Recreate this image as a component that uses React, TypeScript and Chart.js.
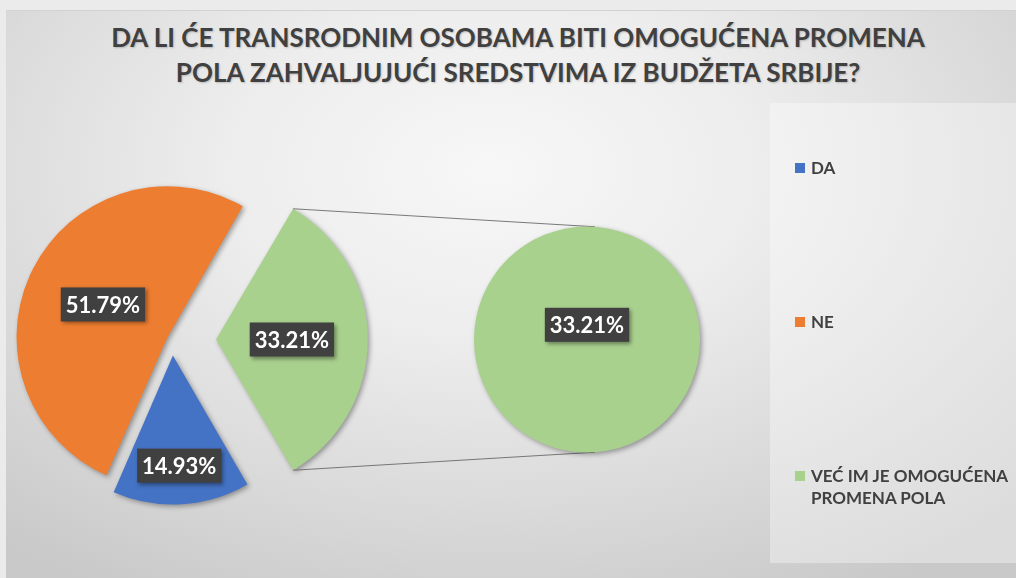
import { useEffect, useRef } from "react";
import { Chart, registerables } from "chart.js";

Chart.register(...registerables);

const titleLines = [
  "DA LI ĆE TRANSRODNIM OSOBAMA BITI OMOGUĆENA PROMENA",
  "POLA ZAHVALJUJUĆI SREDSTVIMA IZ BUDŽETA SRBIJE?",
];

// Primary pie
const categories = ["DA", "NE", "VEĆ IM JE OMOGUĆENA PROMENA POLA"];
const shares = [14.93, 51.79, 33.21];
const sliceColors = ["#4472C4", "#ED7D31", "#A9D18E"];

// Secondary pie: breakdown of the last slice of the primary pie
const detailCategories = ["VEĆ IM JE OMOGUĆENA PROMENA POLA"];
const detailShares = [33.21];
const detailColors = ["#A9D18E"];

const legendLines = [["DA"], ["NE"], ["VEĆ IM JE OMOGUĆENA", "PROMENA POLA"]];

const FONT = "Lato, 'Open Sans', sans-serif";
const TEXT_COLOR = "#404040";

// Geometry of an arc as Chart.js actually paints it (offset shifts and grows the slice)
function arcGeometry(arc: any) {
  const p = arc.getProps(["x", "y", "startAngle", "endAngle", "outerRadius"], true);
  const shift = (arc.options.offset || 0) / 4;
  const mid = (p.startAngle + p.endAngle) / 2;
  const cx = p.x + Math.cos(mid) * shift;
  const cy = p.y + Math.sin(mid) * shift;
  const span = p.endAngle - p.startAngle;
  const grow = shift * (1 - Math.sin(Math.min(Math.PI, span)));
  const r = p.outerRadius + grow;
  const beta = Math.max(0.001, span * r - grow / Math.PI) / r;
  const trim = (span - beta) / 2;
  return { cx, cy, r, mid, start: p.startAngle + trim, end: p.endAngle - trim };
}

// Slice shadows plus dark value boxes
function sliceDecor(
  labelRadius: number[],
  before?: (ctx: CanvasRenderingContext2D, chart: any) => void
) {
  return {
    id: "sliceDecor",
    beforeDatasetsDraw(chart: any) {
      const ctx: CanvasRenderingContext2D = chart.ctx;
      if (before) before(ctx, chart);
      ctx.save();
      ctx.shadowColor = "rgba(0,0,0,0.35)";
      ctx.shadowBlur = 5;
      ctx.shadowOffsetX = 2;
      ctx.shadowOffsetY = 2;
    },
    afterDatasetsDraw(chart: any) {
      const ctx: CanvasRenderingContext2D = chart.ctx;
      ctx.restore();
      const meta = chart.getDatasetMeta(0);
      const values: number[] = chart.data.datasets[0].data;
      meta.data.forEach((arc: any, i: number) => {
        const g = arcGeometry(arc);
        const f = labelRadius[i] ?? 0.5;
        const x = g.cx + Math.cos(g.mid) * g.r * f;
        const y = g.cy + Math.sin(g.mid) * g.r * f;
        const text = `${values[i].toFixed(2)}%`;
        ctx.save();
        ctx.font = `bold 22px ${FONT}`;
        const w = ctx.measureText(text).width + 10;
        const h = 34;
        ctx.shadowColor = "rgba(0,0,0,0.4)";
        ctx.shadowBlur = 4;
        ctx.shadowOffsetX = 2;
        ctx.shadowOffsetY = 2;
        ctx.fillStyle = "#404040";
        ctx.fillRect(x - w / 2, y - h / 2, w, h);
        ctx.shadowColor = "transparent";
        ctx.fillStyle = "#ffffff";
        ctx.textAlign = "center";
        ctx.textBaseline = "middle";
        ctx.fillText(text, x, y + 1);
        ctx.restore();
      });
    },
  };
}

const CONNECTOR_ANGLE = 86;

export default function App() {
  const mainRef = useRef<HTMLCanvasElement>(null);
  const detailRef = useRef<HTMLCanvasElement>(null);

  useEffect(() => {
    const total = shares.reduce((a, b) => a + b, 0);
    const halfOther = (shares[shares.length - 1] / total) * 180;

    const main = new Chart(mainRef.current!, {
      type: "pie",
      data: {
        labels: categories,
        datasets: [
          {
            data: shares,
            backgroundColor: sliceColors,
            borderWidth: 0,
            offset: [64, 20, 176],
            clip: false,
          } as any,
        ],
      },
      options: {
        responsive: false,
        animation: false,
        events: [],
        radius: 146,
        rotation: 90 + halfOther,
        layout: { padding: { left: 0, right: 672, top: 101, bottom: 0 } },
        plugins: { legend: { display: false }, tooltip: { enabled: false } },
      } as any,
      plugins: [sliceDecor([0.74, 0.48, 0.5])],
    });

    // Lines joining the split-off slice with the secondary pie
    const connect = (ctx: CanvasRenderingContext2D, chart: any) => {
      const g = arcGeometry(main.getDatasetMeta(0).data[shares.length - 1]);
      const d = chart.getDatasetMeta(0).data[0];
      const p = d.getProps(["x", "y", "outerRadius"], true);
      const a = (CONNECTOR_ANGLE * Math.PI) / 180;
      const pairs: [number, number][] = [
        [g.start, -a],
        [g.end, a],
      ];
      ctx.save();
      ctx.strokeStyle = "rgba(100,100,100,0.85)";
      ctx.lineWidth = 1;
      pairs.forEach(([from, to]) => {
        ctx.beginPath();
        ctx.moveTo(g.cx + Math.cos(from) * g.r, g.cy + Math.sin(from) * g.r);
        ctx.lineTo(p.x + Math.cos(to) * p.outerRadius, p.y + Math.sin(to) * p.outerRadius);
        ctx.stroke();
      });
      ctx.restore();
    };

    const detail = new Chart(detailRef.current!, {
      type: "pie",
      data: {
        labels: detailCategories,
        datasets: [
          {
            data: detailShares,
            backgroundColor: detailColors,
            borderWidth: 0,
            clip: false,
          } as any,
        ],
      },
      options: {
        responsive: false,
        animation: false,
        events: [],
        radius: 113,
        rotation: 180,
        layout: { padding: { left: 474, right: 316, top: 101, bottom: 0 } },
        plugins: { legend: { display: false }, tooltip: { enabled: false } },
      } as any,
      plugins: [sliceDecor([0.13], connect)],
    });

    return () => {
      detail.destroy();
      main.destroy();
    };
  }, []);

  const legendTops = [157, 311, 465.4];

  return (
    <div
      style={{
        position: "fixed",
        left: 0,
        top: 0,
        width: 1016,
        height: 578,
        overflow: "hidden",
        background: "#ebebeb",
        fontFamily: FONT,
      }}
    >
      <div
        style={{
          position: "absolute",
          left: 6,
          top: 10,
          right: 0,
          bottom: 0,
          borderTop: "1px solid #d2d2d2",
          background:
            "radial-gradient(ellipse 75% 85% at 48% 28%, #f7f7f7 0%, #ededed 35%, #dadada 70%, #c9c9c9 100%)",
        }}
      />
      <div
        style={{
          position: "absolute",
          left: 770,
          top: 103,
          width: 246,
          height: 460,
          background: "rgba(255,255,255,0.35)",
        }}
      />
      {titleLines.map((line, i) => (
        <div
          key={i}
          style={{
            position: "absolute",
            left: 0,
            width: 1036,
            top: 24 + i * 35,
            textAlign: "center",
            fontSize: 26,
            lineHeight: "26px",
            fontWeight: 700,
            color: TEXT_COLOR,
            whiteSpace: "nowrap",
            textShadow: "1px 1px 2px rgba(0,0,0,0.2)",
          }}
        >
          {line}
        </div>
      ))}
      <canvas
        ref={mainRef}
        width={1016}
        height={578}
        style={{ position: "absolute", left: 0, top: 0, width: 1016, height: 578 }}
      />
      <canvas
        ref={detailRef}
        width={1016}
        height={578}
        style={{ position: "absolute", left: 0, top: 0, width: 1016, height: 578 }}
      />
      {legendLines.map((lines, i) => (
        <div key={i} style={{ position: "absolute", left: 795, top: legendTops[i] }}>
          <div
            style={{
              position: "absolute",
              left: 0,
              top: 6,
              width: 10,
              height: 10,
              background: sliceColors[i],
            }}
          />
          <div
            style={{
              marginLeft: 16,
              fontSize: 17,
              lineHeight: "21.6px",
              fontWeight: 700,
              color: TEXT_COLOR,
              whiteSpace: "nowrap",
            }}
          >
            {lines.map((t, j) => (
              <div key={j}>{t}</div>
            ))}
          </div>
        </div>
      ))}
    </div>
  );
}
